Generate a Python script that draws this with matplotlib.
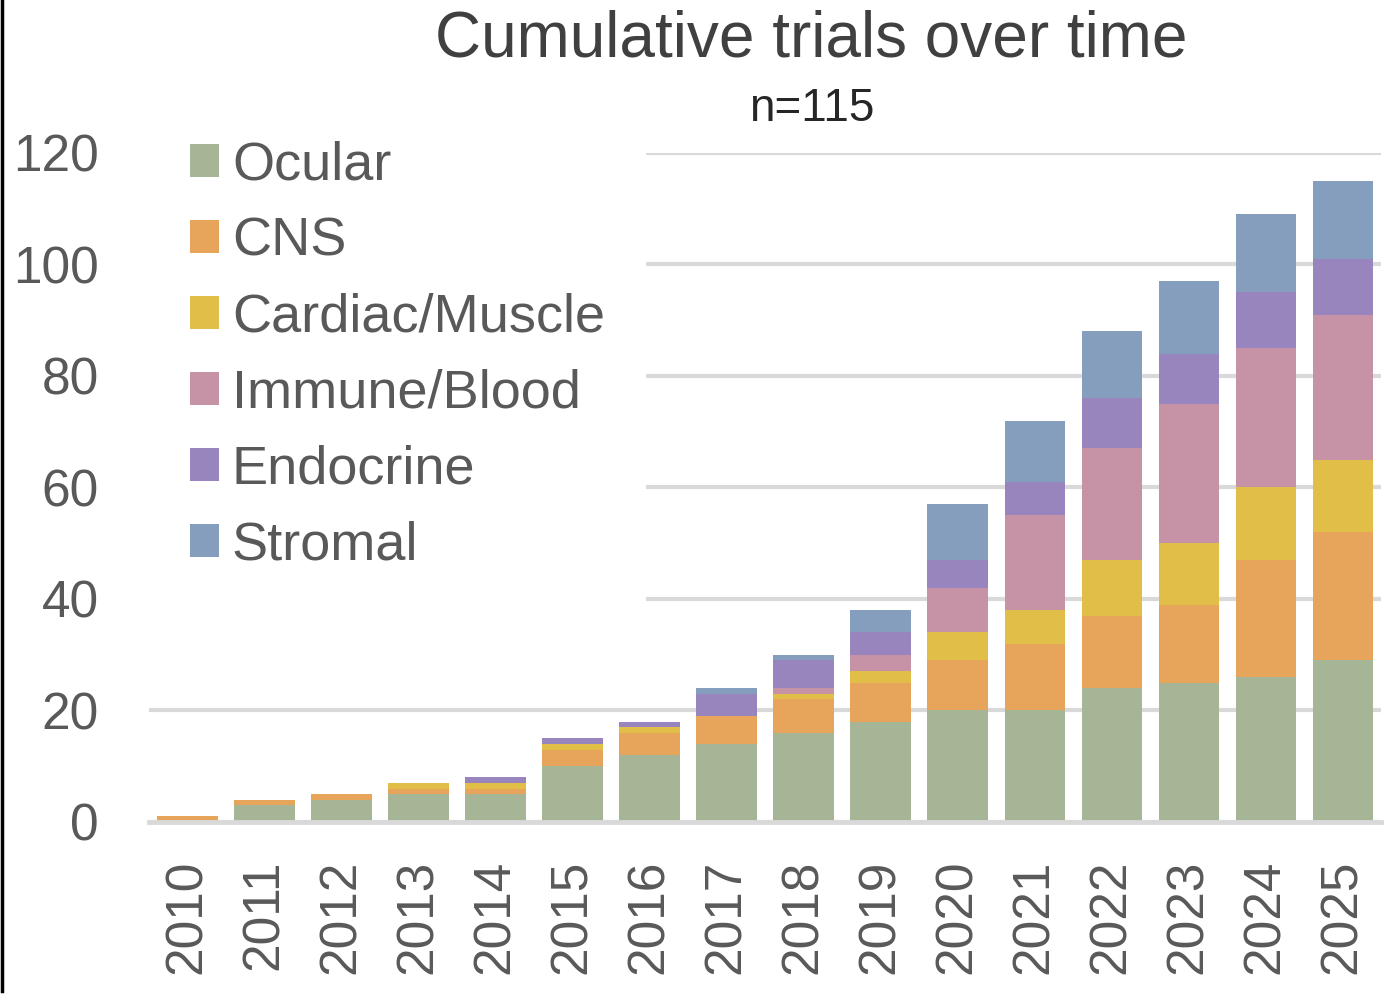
import numpy as np
import matplotlib
matplotlib.use("Agg")
import matplotlib.pyplot as plt
from matplotlib.lines import Line2D

plt.rcParams['font.family'] = ['Liberation Sans', 'DejaVu Sans']

# Cumulative number of trials per category
years = [str(y) for y in range(2010, 2026)]
ocular = [0, 3, 4, 5, 5, 10, 12, 14, 16, 18, 20, 20, 24, 25, 26, 29]
cns = [1, 1, 1, 1, 1, 3, 4, 5, 6, 7, 9, 12, 13, 14, 21, 23]
cardiac = [0, 0, 0, 1, 1, 1, 1, 0, 1, 2, 5, 6, 10, 11, 13, 13]
immune = [0, 0, 0, 0, 0, 0, 0, 0, 1, 3, 8, 17, 20, 25, 25, 26]
endocrine = [0, 0, 0, 0, 1, 1, 1, 4, 5, 4, 5, 6, 9, 9, 10, 10]
stromal = [0, 0, 0, 0, 0, 0, 0, 1, 1, 4, 10, 11, 12, 13, 14, 14]

labels = ['Ocular', 'CNS', 'Cardiac/Muscle', 'Immune/Blood', 'Endocrine', 'Stromal']
colors = ['#A7B597', '#E6A55A', '#E0BE48', '#C693A6', '#9985BE', '#859EBE']
series = [ocular, cns, cardiac, immune, endocrine, stromal]

TEXT = '#595959'

fig = plt.figure(figsize=(13.94, 9.96), dpi=100)
ax = fig.add_axes([0.1069, 0.1747, 0.8838, 0.6717])

x = np.arange(len(years))
bottom = np.zeros(len(years))
for vals, lab, col in zip(series, labels, colors):
    ax.bar(x, vals, width=0.78, bottom=bottom, color=col, label=lab, zorder=2)
    bottom += np.array(vals)

ax.set_xlim(-0.5, len(years) - 0.5)
ax.set_ylim(0, 120)
ax.set_yticks(range(0, 121, 20))
ax.set_xticks(x)
ax.set_xticklabels(years, rotation=90)

ax.yaxis.grid(True, color='#D9D9D9', linewidth=3, zorder=0)
ax.set_axisbelow(True)
for side in ['top', 'right', 'left']:
    ax.spines[side].set_visible(False)
ax.spines['bottom'].set_color('#D9D9D9')
ax.spines['bottom'].set_linewidth(3.5)

ax.tick_params(axis='y', length=0, pad=36, labelsize=37, labelcolor=TEXT)
ax.tick_params(axis='x', length=0, pad=27, labelsize=37, labelcolor=TEXT)

leg = ax.legend(loc='upper left', bbox_to_anchor=(0.0, 1.079), fontsize=39,
                frameon=True, facecolor='white', edgecolor='none', framealpha=1,
                fancybox=False, handlelength=0.54, handleheight=0.54,
                handletextpad=0.24, labelspacing=0.48, borderpad=0.75,
                borderaxespad=0)
for t in leg.get_texts():
    t.set_color(TEXT)

fig.text(0.582, 0.960, 'Cumulative trials over time', ha='center', va='center',
         fontsize=46, color='#404040')
fig.text(0.582, 0.891, 'n=115', ha='center', va='center', fontsize=33,
         color='#262626')

# dark edge on the left side of the screenshot
fig.add_artist(Line2D([0.0012, 0.0012], [0.005, 1.0], color='black', linewidth=2.5))

fig.savefig('out.png', dpi=100)
